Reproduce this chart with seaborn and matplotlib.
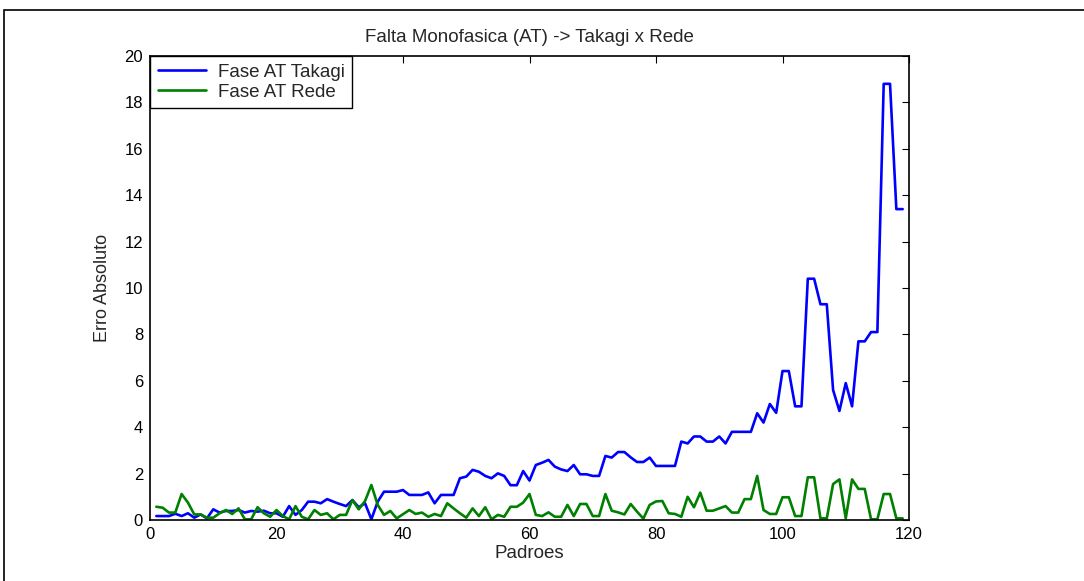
import numpy as np
import pandas as pd
import matplotlib
matplotlib.use("Agg")
import matplotlib.pyplot as plt
import seaborn as sns
from matplotlib.patches import Rectangle

padroes = list(range(1, 120))

takagi = [0.17, 0.17, 0.17, 0.27, 0.17, 0.29, 0.10, 0.24, 0.07, 0.46,
          0.32, 0.39, 0.39, 0.43, 0.32, 0.39, 0.36, 0.40, 0.29, 0.29,
          0.14, 0.60, 0.22, 0.43, 0.79, 0.79, 0.72, 0.90, 0.79, 0.69,
          0.60, 0.86, 0.55, 0.72, 0.03, 0.79, 1.22, 1.22, 1.22, 1.29,
          1.08, 1.08, 1.08, 1.19, 0.72, 1.08, 1.08, 1.08, 1.80, 1.87,
          2.16, 2.08, 1.90, 1.80, 2.01, 1.90, 1.50, 1.50, 2.11, 1.70,
          2.37, 2.47, 2.59, 2.30, 2.18, 2.11, 2.37, 1.97, 1.97, 1.90,
          1.90, 2.76, 2.69, 2.93, 2.93, 2.70, 2.50, 2.50, 2.69, 2.33,
          2.33, 2.33, 2.33, 3.38, 3.30, 3.60, 3.60, 3.38, 3.38, 3.60,
          3.30, 3.80, 3.80, 3.80, 3.80, 4.60, 4.20, 5.00, 4.62, 6.42,
          6.42, 4.90, 4.90, 10.40, 10.40, 9.30, 9.30, 5.60, 4.70, 5.90,
          4.90, 7.70, 7.70, 8.10, 8.10, 18.80, 18.80, 13.40, 13.40]

rede = [0.57, 0.53, 0.32, 0.32, 1.12, 0.75, 0.24, 0.24, 0.10, 0.10,
        0.29, 0.43, 0.26, 0.50, 0.03, 0.03, 0.55, 0.29, 0.14, 0.43,
        0.17, 0.03, 0.60, 0.14, 0.03, 0.43, 0.22, 0.29, 0.03, 0.22,
        0.22, 0.86, 0.46, 0.82, 1.51, 0.65, 0.22, 0.39, 0.07, 0.25,
        0.43, 0.26, 0.32, 0.14, 0.26, 0.17, 0.72, 0.50, 0.29, 0.10,
        0.50, 0.17, 0.55, 0.03, 0.22, 0.14, 0.57, 0.57, 0.75, 1.12,
        0.22, 0.17, 0.33, 0.14, 0.14, 0.65, 0.17, 0.69, 0.69, 0.17,
        0.17, 1.12, 0.40, 0.33, 0.24, 0.69, 0.36, 0.06, 0.65, 0.80,
        0.82, 0.29, 0.26, 0.14, 1.00, 0.55, 1.18, 0.40, 0.40, 0.50,
        0.60, 0.32, 0.32, 0.90, 0.90, 1.90, 0.43, 0.26, 0.26, 0.98,
        0.98, 0.17, 0.17, 1.84, 1.84, 0.07, 0.07, 1.55, 1.75, 0.07,
        1.75, 1.34, 1.34, 0.03, 0.03, 1.12, 1.12, 0.07, 0.07]

series_names = ["Fase AT Takagi", "Fase AT Rede"]
x_ticks = [0, 20, 40, 60, 80, 100, 120]
y_ticks = [0, 2, 4, 6, 8, 10, 12, 14, 16, 18, 20]

sns.set_style("white")
plt.rcParams["font.family"] = ["Liberation Sans", "DejaVu Sans"]

df = pd.DataFrame({
    "Padroes": padroes * 2,
    "Erro": takagi + rede,
    "Serie": [series_names[0]] * len(takagi) + [series_names[1]] * len(rede),
})

fig = plt.figure(figsize=(10.84, 5.81), dpi=100)
ax = fig.add_axes([150 / 1084, 1 - 520 / 581, (909 - 150) / 1084, (520 - 56) / 581])

sns.lineplot(data=df, x="Padroes", y="Erro", hue="Serie",
             palette=["#0000ff", "#008000"], linewidth=1.9, ax=ax)

ax.set_xlim(0, 120)
ax.set_ylim(0, 20)
ax.set_xticks(x_ticks)
ax.set_yticks(y_ticks)
ax.tick_params(direction="in", length=5, width=0.8, top=True, right=True,
               labelsize=12, colors="black", pad=5)
for s in ax.spines.values():
    s.set_visible(True)
    s.set_color("black")
    s.set_linewidth(1.2)

ax.set_title("Falta Monofasica (AT) -> Takagi x Rede", fontsize=13.5, pad=10)
ax.set_xlabel("Padroes", fontsize=13.5, labelpad=2)
ax.set_ylabel("Erro Absoluto", fontsize=13, labelpad=10)

leg = ax.legend(loc="upper left", borderaxespad=0, fancybox=False,
                edgecolor="black", framealpha=1, fontsize=13.5,
                handlelength=2.6, handletextpad=0.6, borderpad=0.4,
                labelspacing=0.15, title=None)
leg.get_frame().set_linewidth(1.0)

fig.patches.append(Rectangle((4 / 1084, -0.1), 1.2, 1.1 - 10 / 581,
                             transform=fig.transFigure, fill=False,
                             edgecolor="black", linewidth=1.2))

fig.savefig("out.png", dpi=100)
